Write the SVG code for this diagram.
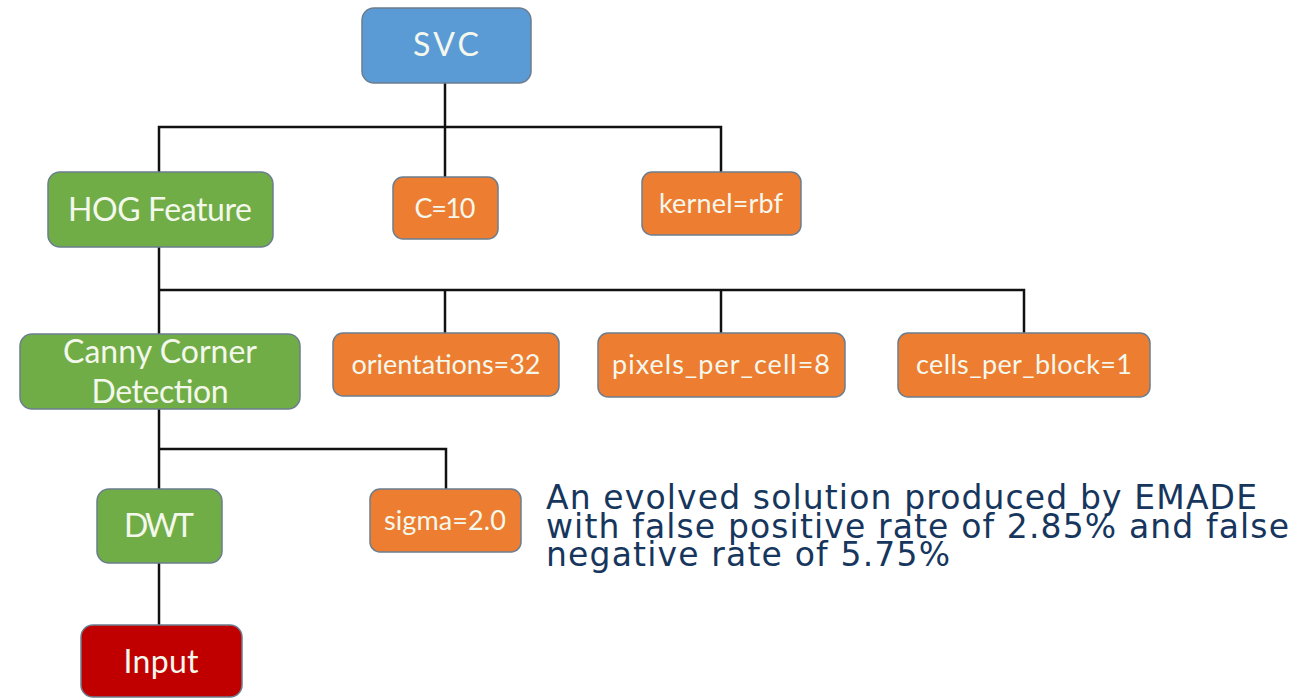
<svg xmlns="http://www.w3.org/2000/svg" width="1306" height="698" viewBox="0 0 1306 698">
<style>
.box{stroke:#6b7d8f;stroke-width:1.5}
.blue{fill:#5B9BD5}
.green{fill:#70AD47}
.orange{fill:#ED7D31}
.red{fill:#C00000}
.lbl{font-family:Lato,"Open Sans","Liberation Sans",sans-serif;font-size:32px;fill:#F4F8EC;text-anchor:middle}
.sm{font-size:27px}
.cap{font-family:"DejaVu Sans","Liberation Sans",sans-serif;font-size:33px;fill:#17365D}
.conn{stroke:#111;stroke-width:2.5;fill:none}
</style>
<rect width="1306" height="698" fill="#fff"/>
<g id="connectors">
<path class="conn" d="M445 83 V177"/>
<path class="conn" d="M159 172 V127 H721 V172"/>
<path class="conn" d="M159 247 V334"/>
<path class="conn" d="M159 290 H1024 V333"/>
<path class="conn" d="M445 290 V333"/>
<path class="conn" d="M721 290 V333"/>
<path class="conn" d="M159 409 V489"/>
<path class="conn" d="M159 449 H446 V489"/>
<path class="conn" d="M159 563 V625"/>
</g>
<g id="svc"><rect class="box blue" x="362" y="8" width="169" height="75" rx="12"/><text class="lbl" x="446" y="56" textLength="66">SVC</text></g>
<g id="hog"><rect class="box green" x="48" y="172" width="225" height="75" rx="12"/><text class="lbl" x="160" y="221" textLength="184">HOG Feature</text></g>
<g id="c10"><rect class="box orange" x="393" y="177" width="105" height="62" rx="10"/><text class="lbl sm" x="445" y="218" textLength="61">C=10</text></g>
<g id="kernel"><rect class="box orange" x="642" y="172" width="159" height="63" rx="10"/><text class="lbl sm" x="721" y="213" textLength="124">kernel=rbf</text></g>
<g id="canny"><rect class="box green" x="20" y="334" width="280" height="75" rx="12"/><text class="lbl" x="160" y="363" textLength="194">Canny Corner</text><text class="lbl" x="160" y="403" textLength="137">Detection</text></g>
<g id="orient"><rect class="box orange" x="333" y="333" width="226" height="63" rx="10"/><text class="lbl sm" x="446" y="374" textLength="189">orientations=32</text></g>
<g id="pixels"><rect class="box orange" x="598" y="333" width="247" height="64" rx="10"/><text class="lbl sm" x="721" y="374" textLength="218">pixels_per_cell=8</text></g>
<g id="cells"><rect class="box orange" x="898" y="333" width="252" height="64" rx="10"/><text class="lbl sm" x="1024" y="374" textLength="216">cells_per_block=1</text></g>
<g id="dwt"><rect class="box green" x="97" y="489" width="125" height="74" rx="12"/><text class="lbl" x="159" y="537" textLength="70">DWT</text></g>
<g id="sigma"><rect class="box orange" x="370" y="489" width="151" height="63" rx="10"/><text class="lbl sm" x="445" y="530" textLength="122">sigma=2.0</text></g>
<g id="input"><rect class="box red" x="81" y="625" width="161" height="72" rx="12"/><text class="lbl" x="161" y="673" textLength="75">Input</text></g>
<g id="caption">
<text class="cap" x="546" y="509" textLength="711">An evolved solution produced by EMADE</text>
<text class="cap" x="546" y="538" textLength="743">with false positive rate of 2.85% and false</text>
<text class="cap" x="546" y="566" textLength="404">negative rate of 5.75%</text>
</g>
</svg>
